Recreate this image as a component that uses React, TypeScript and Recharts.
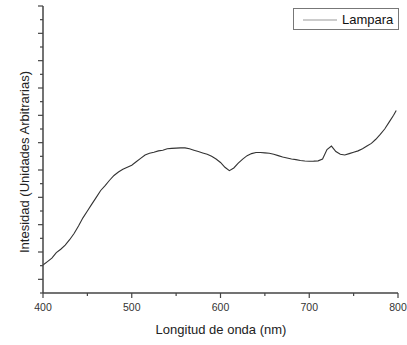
import React from 'react';
import { LineChart, Line, XAxis, YAxis, Legend, Label } from 'recharts';

const wavelengths = [
  400, 405, 410, 415, 420, 425, 430, 435, 440, 445, 450, 455, 460, 465, 470, 475, 480, 485, 490, 495,
  500, 505, 510, 515, 520, 525, 530, 535, 540, 545, 550, 555, 560, 565, 570, 575, 580, 585, 590, 595,
  600, 605, 610, 615, 620, 625, 630, 635, 640, 645, 650, 655, 660, 665, 670, 675, 680, 685, 690, 695,
  700, 705, 710, 715, 720, 725, 730, 735, 740, 745, 750, 755, 760, 765, 770, 775, 780, 785, 790, 795, 798,
];

const intensity = [
  2.05, 2.3, 2.55, 2.95, 3.2, 3.5, 3.9, 4.35, 4.9, 5.5, 6.0, 6.5, 7.0, 7.5, 7.85, 8.25, 8.6, 8.85, 9.05, 9.2,
  9.35, 9.6, 9.85, 10.1, 10.22, 10.3, 10.4, 10.45, 10.55, 10.58, 10.6, 10.62, 10.62, 10.55, 10.45, 10.35, 10.25, 10.15, 10.0, 9.8,
  9.55, 9.2, 8.95, 9.15, 9.5, 9.8, 10.05, 10.2, 10.28, 10.28, 10.25, 10.22, 10.15, 10.05, 9.95, 9.88, 9.8, 9.76, 9.7, 9.66,
  9.64, 9.65, 9.67, 9.8, 10.5, 10.75, 10.35, 10.15, 10.1, 10.2, 10.3, 10.4, 10.55, 10.75, 10.95, 11.25, 11.6, 12.0, 12.5, 13.0, 13.35,
];

const xTicks = [400, 450, 500, 550, 600, 650, 700, 750, 800];
const xMajor = [400, 500, 600, 700, 800];
const yTicks = Array.from({ length: 22 }, (_, i) => i);

const seriesName = 'Lampara';
const xTitle = 'Longitud de onda (nm)';
const yTitle = 'Intesidad (Unidades Arbitrarias)';

const data = wavelengths.map((w, i) => ({ w, v: intensity[i] }));

const FONT = '"Liberation Sans", Arial, sans-serif';
const AXIS = '#444';

const XTick = (props: any) => {
  const { x, y, payload } = props;
  const major = xMajor.includes(payload.value);
  return (
    <g>
      <line x1={x} x2={x} y1={y} y2={y + (major ? 5 : 3)} stroke={AXIS} strokeWidth={1.2} />
      {major && (
        <text x={x} y={y + 18} textAnchor="middle" fontSize={10.5} fill="#333" fontFamily={FONT}>
          {payload.value}
        </text>
      )}
    </g>
  );
};

const YTick = (props: any) => {
  const { x, y, payload } = props;
  const major = payload.value % 2 === 1;
  return <line x1={x} x2={x - (major ? 5 : 3)} y1={y} y2={y} stroke={AXIS} strokeWidth={1.2} />;
};

const LegendBox = () => (
  <div
    style={{
      border: '1px solid #777',
      width: 104,
      height: 20,
      display: 'flex',
      alignItems: 'center',
      fontFamily: FONT,
      fontSize: 13,
      color: '#111',
      background: '#fff',
    }}
  >
    <svg width={44} height={20}>
      <line x1={9} x2={43} y1={11} y2={11} stroke="#999" strokeWidth={1.2} />
    </svg>
    <span style={{ marginLeft: 4 }}>{seriesName}</span>
  </div>
);

export default function App() {
  return (
    <div style={{ position: 'absolute', left: 0, top: 0, background: '#fff' }}>
      <LineChart width={407} height={345} data={data} margin={{ top: 6, right: 9, left: 0, bottom: 0 }}>
        <XAxis
          dataKey="w"
          type="number"
          domain={[400, 800]}
          ticks={xTicks}
          interval={0}
          height={52}
          tickSize={0}
          tickMargin={0}
          tick={<XTick />}
          axisLine={{ stroke: AXIS, strokeWidth: 1.5 }}
        >
          <Label
            content={() => (
              <text x={221} y={334} textAnchor="middle" fontSize={13} fill="#222" fontFamily={FONT}>
                {xTitle}
              </text>
            )}
          />
        </XAxis>
        <YAxis
          type="number"
          domain={[0, 21]}
          ticks={yTicks}
          interval={0}
          width={43}
          tickSize={0}
          tickMargin={0}
          tick={<YTick />}
          axisLine={{ stroke: AXIS, strokeWidth: 1.5 }}
        >
          <Label
            content={() => (
              <text
                x={29}
                y={162}
                transform="rotate(-90 29 162)"
                textAnchor="middle"
                fontSize={13}
                fill="#222"
                fontFamily={FONT}
              >
                {yTitle}
              </text>
            )}
          />
        </YAxis>
        <Legend
          content={<LegendBox />}
          layout="horizontal"
          verticalAlign="middle"
          align="center"
          wrapperStyle={{ top: 8, left: 293, width: 106 }}
        />
        <Line
          dataKey="v"
          type="linear"
          stroke="#333"
          strokeWidth={1.1}
          dot={false}
          isAnimationActive={false}
        />
      </LineChart>
    </div>
  );
}
